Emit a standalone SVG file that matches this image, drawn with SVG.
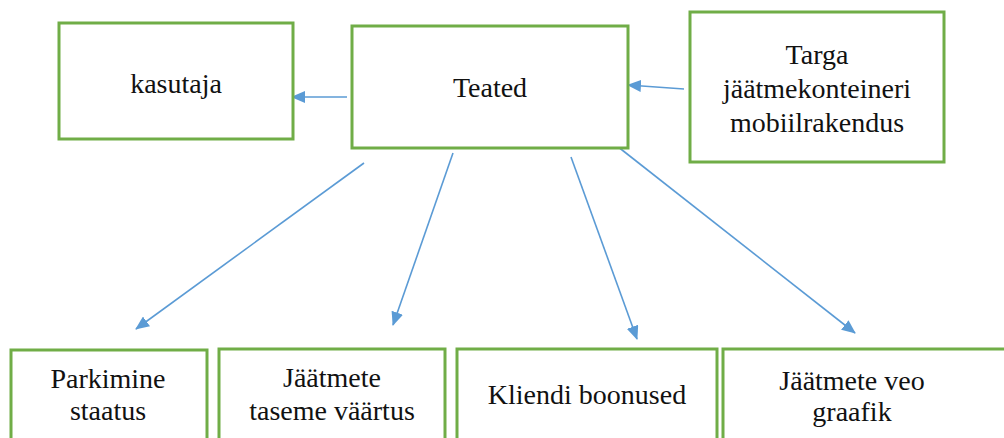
<svg xmlns="http://www.w3.org/2000/svg" width="1004" height="438" viewBox="0 0 1004 438">
<style>
.box{fill:#ffffff;stroke:#70AD47;stroke-width:3}
.lbl{font-family:'Liberation Serif',serif;font-size:28px;fill:#111;text-anchor:middle}
.conn{stroke:#5B9BD5;stroke-width:1.6;fill:none}
</style>
<defs>
<marker id="arr" markerUnits="userSpaceOnUse" markerWidth="14" markerHeight="12" refX="13" refY="6" orient="auto">
<path d="M0,0 L14,6 L0,12 z" fill="#5B9BD5"/>
</marker>
</defs>
<rect width="1004" height="438" fill="#ffffff"/>
<g id="connectors">
<line class="conn" x1="347" y1="97" x2="292" y2="97" marker-end="url(#arr)"/>
<line class="conn" x1="684" y1="89" x2="628" y2="85" marker-end="url(#arr)"/>
<line class="conn" x1="364" y1="163" x2="136" y2="329" marker-end="url(#arr)"/>
<line class="conn" x1="453" y1="153" x2="393" y2="325" marker-end="url(#arr)"/>
<line class="conn" x1="571" y1="157" x2="637" y2="339" marker-end="url(#arr)"/>
<line class="conn" x1="617" y1="146" x2="855" y2="333" marker-end="url(#arr)"/>
</g>
<g id="kasutaja">
<rect class="box" x="59" y="23" width="234" height="116"/>
<text class="lbl" x="176" y="93">kasutaja</text>
</g>
<g id="teated">
<rect class="box" x="352" y="26" width="276" height="122"/>
<text class="lbl" x="490" y="97">Teated</text>
</g>
<g id="targa">
<rect class="box" x="690" y="12" width="254" height="150"/>
<text class="lbl" x="817" y="64">Targa</text>
<text class="lbl" x="817" y="98">jäätmekonteineri</text>
<text class="lbl" x="817" y="132">mobiilrakendus</text>
</g>
<g id="parkimine">
<rect class="box" x="11" y="350" width="196" height="100"/>
<text class="lbl" x="108" y="388">Parkimine</text>
<text class="lbl" x="108" y="420">staatus</text>
</g>
<g id="jaatmete-tase">
<rect class="box" x="219" y="349" width="226" height="100"/>
<text class="lbl" x="332" y="387">Jäätmete</text>
<text class="lbl" x="332" y="420">taseme väärtus</text>
</g>
<g id="kliendi">
<rect class="box" x="457" y="349" width="260" height="100"/>
<text class="lbl" x="587" y="404">Kliendi boonused</text>
</g>
<g id="jaatmete-veo">
<rect class="box" x="723" y="349" width="290" height="100"/>
<text class="lbl" x="852" y="390">Jäätmete veo</text>
<text class="lbl" x="852" y="421">graafik</text>
</g>
</svg>
